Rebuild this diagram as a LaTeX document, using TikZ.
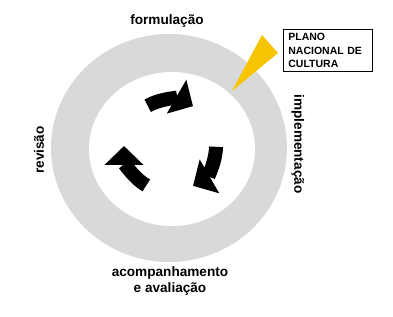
\documentclass[tikz,border=0pt]{standalone}
\usepackage{fontspec}
\setmainfont{Liberation Sans}
\usetikzlibrary{arrows.meta}
\definecolor{ringgray}{HTML}{D9D9D9}
\definecolor{wedgeyellow}{HTML}{F6C400}
\begin{document}
\begin{tikzpicture}[x=1pt,y=1pt,
  lbl/.style={font=\fontsize{13.6}{16}\selectfont\bfseries, inner sep=0pt, align=center},
  cyclearrow/.style={line width=14pt, -{Triangle[width=38pt,length=19pt]}, black}]
\useasboundingbox (0,0) rectangle (393,316);
% ring
\fill[ringgray] (169,168) ellipse [x radius=118, y radius=114];
\fill[white] (172,167) ellipse [x radius=83, y radius=77];
% wedge
\coordinate (wtip) at (232,225);
\coordinate (wa) at (262,281);
\coordinate (wb) at (278,263);
\fill[wedgeyellow] (wtip) -- (wa) -- (wb) -- cycle;
% box
\node[draw, line width=0.8pt, anchor=north west, minimum width=89pt, minimum height=42pt,
  text width=79pt, inner xsep=5pt, align=left,
  font=\fontsize{10.5}{13.5}\selectfont\bfseries] (pnc) at (283,287)
  {PLANO\\NACIONAL DE\\CULTURA};
% labels
\node[lbl] (form) at (167,295) {formulação};
\node[lbl] (acomp) at (170,35) {acompanhamento\\e avaliação};
\node[lbl, rotate=90] (rev) at (39,166) {revisão};
\node[lbl, rotate=-90] (impl) at (298,172) {implementação};
% arrows
\coordinate (c) at (170,170);
\draw[cyclearrow] ([shift={(119:46)}]c) arc[start angle=119, end angle=60, radius=46];
\draw[cyclearrow] ([shift={(-1:46)}]c) arc[start angle=-1, end angle=-60, radius=46];
\draw[cyclearrow] ([shift={(239:46)}]c) arc[start angle=239, end angle=180, radius=46];
\end{tikzpicture}
\end{document}
